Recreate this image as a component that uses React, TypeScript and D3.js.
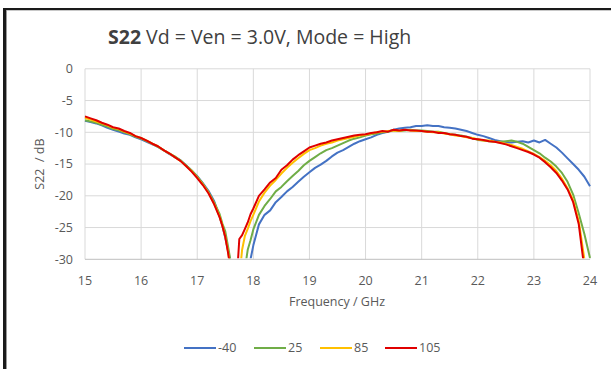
import React from "react";
import * as d3 from "d3";

const title = "S22";
const titleRest = " Vd = Ven = 3.0V, Mode = High";
const xLabel = "Frequency / GHz";
const yLabel = "S22  / dB";
const xTicks = [15, 16, 17, 18, 19, 20, 21, 22, 23, 24];
const yTicks = [0, -5, -10, -15, -20, -25, -30];
const seriesNames = ["-40", "25", "85", "105"];
const seriesColors = ["#4472C4", "#70AD47", "#FFC000", "#E00000"];

const freqs = [
  15.0, 15.1, 15.2, 15.3, 15.4, 15.5, 15.6, 15.7, 15.8, 15.9,
  16.0, 16.1, 16.2, 16.3, 16.4, 16.5, 16.6, 16.7, 16.8, 16.9,
  17.0, 17.1, 17.2, 17.3, 17.4, 17.45, 17.5, 17.55, 17.6, 17.65,
  17.7, 17.75, 17.8, 17.85, 17.9, 17.95, 18.0, 18.1, 18.2, 18.3,
  18.4, 18.5, 18.6, 18.7, 18.8, 18.9, 19.0, 19.1, 19.2, 19.3,
  19.4, 19.5, 19.6, 19.7, 19.8, 19.9, 20.0, 20.1, 20.2, 20.3,
  20.4, 20.5, 20.6, 20.7, 20.8, 20.9, 21.0, 21.1, 21.2, 21.3,
  21.4, 21.5, 21.6, 21.7, 21.8, 21.9, 22.0, 22.1, 22.2, 22.3,
  22.4, 22.5, 22.6, 22.7, 22.8, 22.9, 23.0, 23.1, 23.2, 23.3,
  23.4, 23.5, 23.6, 23.7, 23.8, 23.9, 24.0,
];

const sM40 = [
  -8.2, -8.4, -8.6, -8.9, -9.3, -9.6, -9.9, -10.2, -10.4, -10.8,
  -11.1, -11.5, -11.9, -12.3, -12.8, -13.4, -13.9, -14.4, -15.2, -16.0,
  -16.9, -18.0, -19.2, -20.8, -23.3, -24.8, -26.6, -28.6, -30.8, -35,
  -38, -38, -37, -35, -33, -30.0, -27.8, -24.5, -23.0, -22.3,
  -21.0, -20.2, -19.3, -18.6, -17.8, -17.0, -16.3, -15.6, -15.1, -14.5,
  -13.8, -13.2, -12.8, -12.3, -11.8, -11.4, -11.1, -10.8, -10.4, -10.1,
  -9.9, -9.6, -9.4, -9.3, -9.2, -9.0, -9.0, -8.9, -9.0, -9.0,
  -9.2, -9.3, -9.4, -9.6, -9.8, -10.1, -10.4, -10.6, -10.9, -11.2,
  -11.4, -11.6, -11.6, -11.5, -11.4, -11.6, -11.3, -11.6, -11.2, -11.8,
  -12.4, -13.2, -14.1, -15.0, -15.9, -17.0, -18.5,
];

const s25 = [
  -8.1, -8.3, -8.5, -8.8, -9.1, -9.5, -9.7, -10.0, -10.3, -10.7,
  -11.0, -11.4, -11.8, -12.3, -12.8, -13.3, -13.8, -14.4, -15.2, -16.0,
  -17.0, -18.1, -19.4, -21.0, -22.9, -24.4, -25.6, -28.0, -30.6, -35,
  -38, -36, -34, -31.5, -28.5, -27.0, -25.3, -23.0, -21.6, -20.5,
  -19.3, -18.6, -17.7, -16.9, -16.1, -15.2, -14.5, -13.9, -13.3, -12.8,
  -12.5, -12.1, -11.7, -11.3, -11.0, -10.8, -10.5, -10.3, -10.2, -10.0,
  -9.9, -9.7, -9.8, -9.7, -9.6, -9.7, -9.7, -9.8, -9.9, -9.9,
  -10.1, -10.3, -10.4, -10.5, -10.7, -10.9, -11.2, -11.3, -11.4, -11.5,
  -11.5, -11.4, -11.3, -11.5, -11.8, -12.3, -12.8, -13.3, -14.0, -14.6,
  -15.4, -16.4, -17.8, -19.8, -22.8, -26.0, -29.8,
];

const s85 = [
  -7.7, -8.0, -8.3, -8.6, -8.9, -9.3, -9.5, -9.9, -10.2, -10.6,
  -10.9, -11.3, -11.8, -12.2, -12.8, -13.3, -13.9, -14.5, -15.3, -16.1,
  -17.1, -18.2, -19.5, -21.2, -23.3, -24.7, -26.4, -28.8, -31.5, -36,
  -37, -33, -28.5, -26.3, -25.2, -24.0, -23.0, -20.9, -19.5, -18.4,
  -17.5, -16.5, -15.6, -14.8, -14.1, -13.4, -12.8, -12.5, -12.1, -11.8,
  -11.6, -11.3, -11.1, -10.9, -10.7, -10.5, -10.4, -10.2, -10.0, -9.9,
  -9.8, -9.7, -9.8, -9.6, -9.7, -9.8, -9.8, -9.9, -10.0, -10.0,
  -10.2, -10.3, -10.5, -10.6, -10.8, -10.9, -11.1, -11.3, -11.3, -11.5,
  -11.6, -11.8, -12.0, -12.3, -12.6, -13.0, -13.4, -13.9, -14.5, -15.2,
  -16.1, -17.3, -18.8, -20.7, -24.0, -30.0, -37,
];

const s105 = [
  -7.5, -7.8, -8.1, -8.5, -8.8, -9.2, -9.4, -9.8, -10.1, -10.6,
  -10.9, -11.3, -11.8, -12.2, -12.8, -13.3, -13.9, -14.5, -15.3, -16.2,
  -17.2, -18.3, -19.6, -21.3, -23.4, -24.8, -26.5, -29.0, -32, -36,
  -34, -26.8, -26.2, -25.2, -24.2, -22.9, -22.0, -20.0, -19.0, -17.9,
  -17.2, -15.9, -15.2, -14.3, -13.6, -13.0, -12.4, -12.1, -11.8, -11.6,
  -11.3, -11.1, -10.9, -10.7, -10.5, -10.4, -10.3, -10.1, -10.0, -9.8,
  -9.9, -9.6, -9.7, -9.6, -9.7, -9.7, -9.8, -9.9, -9.9, -10.1,
  -10.1, -10.3, -10.4, -10.6, -10.7, -11.0, -11.1, -11.2, -11.4, -11.5,
  -11.7, -11.9, -12.2, -12.5, -12.8, -13.1, -13.5, -14.0, -14.7, -15.5,
  -16.4, -17.6, -19.0, -21.0, -24.5, -31.5, -38,
];

const seriesValues = [sM40, s25, s85, s105];

const W = 611;
const H = 369;
const FONT = "'Open Sans', 'Liberation Sans', sans-serif";

export default function App() {
  const x = d3.scaleLinear().domain([15, 24]).range([85, 590]);
  const y = d3.scaleLinear().domain([-30, 0]).range([259.3, 68.8]);

  const line = d3
    .line<[number, number]>()
    .x((d) => x(d[0]))
    .y((d) => y(d[1]));

  const legendX = [184, 254, 320, 385];

  return (
    <svg
      width={W}
      height={H}
      style={{ position: "absolute", left: 0, top: 0, background: "#fff" }}
      fontFamily={FONT}
    >
      <defs>
        <clipPath id="plotclip">
          <rect x={x(15) - 2} y={y(0) - 2} width={x(24) - x(15) + 4} height={y(-30) - y(0) + 1} />
        </clipPath>
      </defs>
      <rect x={0} y={0} width={W} height={H} fill="#fff" />
      {/* frame */}
      <line x1={4.5} y1={8} x2={4.5} y2={H} stroke="#1a1a1a" strokeWidth={3} />
      <line x1={3} y1={9} x2={W} y2={9} stroke="#1a1a1a" strokeWidth={2} />
      <line x1={6} y1={10.5} x2={W} y2={10.5} stroke="#c8c8c8" strokeWidth={1} />
      <line x1={6.5} y1={10} x2={6.5} y2={H} stroke="#9a9a9a" strokeWidth={1} />

      {/* title */}
      <text x={108} y={44} fontSize={19.5} fill="#404040">
        <tspan fontWeight="bold">{title}</tspan>
        <tspan>{titleRest}</tspan>
      </text>

      {/* grid */}
      {xTicks.map((t) => (
        <line key={"gx" + t} x1={x(t)} x2={x(t)} y1={y(0)} y2={y(-30)} stroke="#d9d9d9" strokeWidth={1} />
      ))}
      {yTicks.map((t) => (
        <line key={"gy" + t} x1={x(15)} x2={x(24)} y1={y(t)} y2={y(t)} stroke={t === -30 ? "#bfbfbf" : "#d9d9d9"} strokeWidth={1} />
      ))}

      {/* tick labels */}
      {yTicks.map((t) => (
        <text key={"ty" + t} x={73} y={y(t)} dy="0.35em" textAnchor="end" fontSize={12.5} fill="#595959">
          {t}
        </text>
      ))}
      {xTicks.map((t) => (
        <text key={"tx" + t} x={x(t)} y={281} dy="0.35em" textAnchor="middle" fontSize={12.5} fill="#595959">
          {t}
        </text>
      ))}

      <text x={337} y={302} dy="0.35em" textAnchor="middle" fontSize={12.5} fill="#595959">
        {xLabel}
      </text>
      <text
        transform={`translate(40, ${(y(0) + y(-30)) / 2}) rotate(-90)`}
        textAnchor="middle"
        dy="0.35em"
        fontSize={12.5}
        fill="#595959"
        style={{ whiteSpace: "pre" }}
      >
        {yLabel}
      </text>

      {/* series */}
      <g clipPath="url(#plotclip)">
        {seriesValues.map((vals, i) => (
          <path
            key={"s" + i}
            d={line(freqs.map((f, j) => [f, vals[j]] as [number, number])) || ""}
            fill="none"
            stroke={seriesColors[i]}
            strokeWidth={2}
            strokeLinejoin="round"
          />
        ))}
      </g>

      {/* legend */}
      {seriesNames.map((n, i) => (
        <g key={"l" + i}>
          <line x1={legendX[i]} x2={legendX[i] + 32} y1={348} y2={348} stroke={seriesColors[i]} strokeWidth={2} />
          <text x={legendX[i] + 34} y={348} dy="0.35em" fontSize={12.5} fill="#595959">
            {n}
          </text>
        </g>
      ))}
    </svg>
  );
}
